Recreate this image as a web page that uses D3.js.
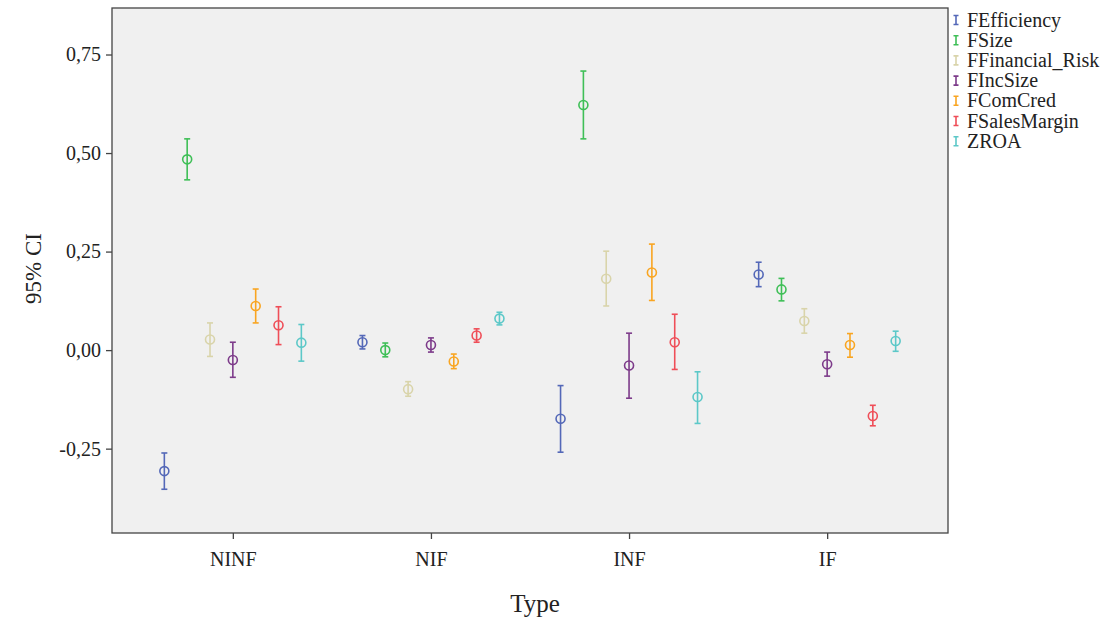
<!DOCTYPE html>
<html>
<head>
<meta charset="utf-8">
<script src="https://cdn.jsdelivr.net/npm/d3@7"></script>
<style>
  body { margin: 0; background: #fff; }
  svg text { font-family: "Liberation Serif", "DejaVu Serif", serif; fill: #222; }
</style>
</head>
<body>
<svg id="chart"></svg>
<script>
const types = ["NINF", "NIF", "INF", "IF"];
const vars = ["FEfficiency", "FSize", "FFinancial_Risk", "FIncSize", "FComCred", "FSalesMargin", "ZROA"];
const colors = ["#5468b8", "#3fbf57", "#d9d4aa", "#7d3b8a", "#f9a521", "#ef4e58", "#5cc8c8"];

// mean, lower, upper per type (rows follow vars)
const meanNINF = [-0.307, 0.484, 0.027, -0.025, 0.112, 0.063, 0.019];
const loNINF   = [-0.353, 0.432, -0.016, -0.069, 0.069, 0.014, -0.028];
const hiNINF   = [-0.261, 0.536, 0.069, 0.020, 0.155, 0.110, 0.065];

const meanNIF = [0.020, 0.000, -0.099, 0.013, -0.029, 0.037, 0.080];
const loNIF   = [0.003, -0.017, -0.117, -0.005, -0.047, 0.020, 0.064];
const hiNIF   = [0.037, 0.018, -0.080, 0.031, -0.010, 0.054, 0.096];

const meanINF = [-0.174, 0.622, 0.181, -0.039, 0.197, 0.020, -0.119];
const loINF   = [-0.259, 0.536, 0.112, -0.122, 0.126, -0.049, -0.186];
const hiINF   = [-0.090, 0.708, 0.251, 0.043, 0.269, 0.091, -0.055];

const meanIF = [0.192, 0.154, 0.074, -0.036, 0.013, -0.167, 0.023];
const loIF   = [0.161, 0.125, 0.043, -0.066, -0.018, -0.192, -0.003];
const hiIF   = [0.223, 0.182, 0.105, -0.005, 0.042, -0.140, 0.048];

const yTicks = [-0.25, 0, 0.25, 0.5, 0.75];

const means = [meanNINF, meanNIF, meanINF, meanIF];
const los = [loNINF, loNIF, loINF, loIF];
const his = [hiNINF, hiNIF, hiINF, hiIF];

let data = [];
types.forEach((t, ti) => {
	vars.forEach((v, vi) => {
		data.push({type: t, v: v, vi: vi, mean: means[ti][vi], lo: los[ti][vi], hi: his[ti][vi]});
	});
});

const W = 1109, H = 623;
const mLeft = 112, mRight = 948, mTop = 8, mBottom = 533;

let svg = d3.select("#chart").attr("width", W).attr("height", H);

let x = d3.scalePoint().domain(types).range([mLeft, mRight]).padding(0.61);
let off = d3.scalePoint().domain(vars).range([-68.5, 68.5]);
let y = d3.scaleLinear().domain([-0.464, 0.868]).range([mBottom, mTop]);

svg.append("rect")
	.attr("x", mLeft).attr("y", mTop)
	.attr("width", mRight - mLeft).attr("height", mBottom - mTop)
	.attr("fill", "#f0f0f0")
	.attr("stroke", "#444").attr("stroke-width", 1.3);

let fmt = d => d3.format(".2f")(d).replace(".", ",").replace("−", "-");

let yAxis = svg.append("g")
	.attr("transform", `translate(${mLeft},0)`)
	.call(d3.axisLeft(y).tickValues(yTicks).tickFormat(fmt).tickSize(6).tickPadding(5));
yAxis.select(".domain").remove();
yAxis.attr("font-family", "Liberation Serif").attr("font-size", 20);
yAxis.selectAll("line").attr("stroke", "#444").attr("stroke-width", 1.3);
yAxis.selectAll("text").attr("fill", "#222");

let xAxis = svg.append("g")
	.attr("transform", `translate(0,${mBottom})`)
	.call(d3.axisBottom(x).tickSize(6).tickPadding(13));
xAxis.select(".domain").remove();
xAxis.attr("font-family", "Liberation Serif").attr("font-size", 20);
xAxis.selectAll("line").attr("stroke", "#444").attr("stroke-width", 1.3);
xAxis.selectAll("text").attr("fill", "#222");

svg.append("text")
	.attr("x", (mLeft + mRight) / 2 + 5).attr("y", 612)
	.attr("text-anchor", "middle")
	.attr("font-size", 25)
	.style("font-size", "25px")
	.text("Type");

svg.append("text")
	.attr("transform", `translate(41,${(mTop + mBottom) / 2 - 2}) rotate(-90)`)
	.attr("text-anchor", "middle")
	.attr("font-size", 23)
	.style("font-size", "23px")
	.text("95% CI");

let marks = svg.selectAll("g.ci")
	.data(data)
	.enter()
	.append("g")
	.attr("class", "ci")
	.attr("transform", d => `translate(${x(d.type) + off(d.v)},0)`)
	.attr("stroke", d => colors[d.vi])
	.attr("stroke-width", 1.6)
	.attr("fill", "none");

marks.append("line")
	.attr("y1", d => y(d.lo)).attr("y2", d => y(d.hi));
marks.append("line")
	.attr("x1", -3).attr("x2", 3)
	.attr("y1", d => y(d.lo)).attr("y2", d => y(d.lo));
marks.append("line")
	.attr("x1", -3).attr("x2", 3)
	.attr("y1", d => y(d.hi)).attr("y2", d => y(d.hi));
marks.append("circle")
	.attr("cy", d => y(d.mean))
	.attr("r", 4.5);

let legend = svg.selectAll("g.leg")
	.data(vars)
	.enter()
	.append("g")
	.attr("class", "leg")
	.attr("transform", (d, i) => `translate(956,${20 + i * 20.2})`);

legend.append("path")
	.attr("d", "M-2.5,-4.5H2.5M0,-4.5V4.5M-2.5,4.5H2.5")
	.attr("stroke", (d, i) => colors[i])
	.attr("stroke-width", 1.6)
	.attr("fill", "none");

legend.append("text")
	.attr("x", 11).attr("y", 6.5)
	.style("font-size", "20px")
	.text(d => d);
</script>
</body>
</html>
